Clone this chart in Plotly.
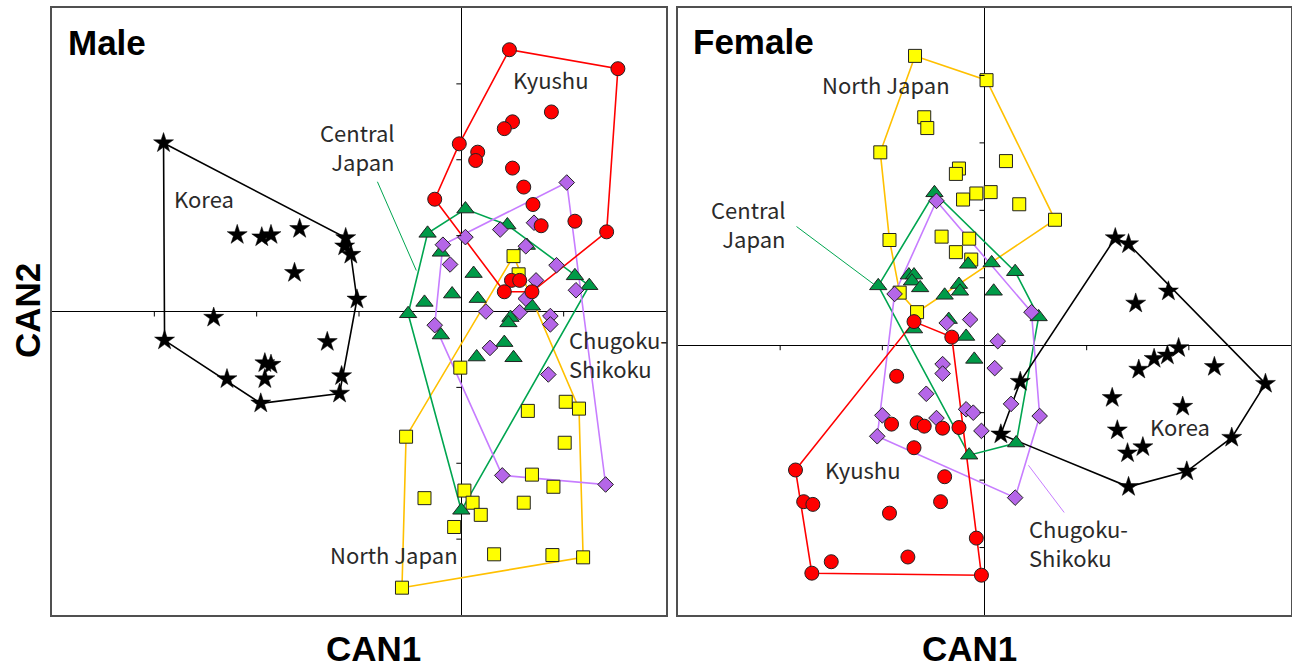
import plotly.graph_objects as go

# ---------------- Male: canonical scores (CAN1, CAN2) ----------------
kor_m_x = [-2.91, -2.19, -1.95, -1.86, -1.58, -1.63, -1.13, -1.14, -1.08, -1.02,
           -2.42, -2.90, -2.29, -1.96, -1.92, -1.86, -1.92, -1.31, -1.17, -1.19]
kor_m_y = [2.22, 1.01, 0.98, 1.01, 1.09, 0.51, 0.97, 0.86, 0.75, 0.16,
           -0.08, -0.38, -0.89, -1.21, -0.68, -0.70, -0.89, -0.40, -0.85, -1.08]

kyu_m_x = [0.47, 1.53, 0.88, 0.50, 0.42, -0.02, 0.16, 0.14, 0.50, 0.61,
           -0.26, 0.70, 0.78, 1.11, 1.42, 0.49, 0.57, 0.42, 0.69]
kyu_m_y = [3.45, 3.20, 2.63, 2.50, 2.41, 2.21, 2.10, 1.99, 1.89, 1.64,
           1.48, 1.41, 1.13, 1.19, 1.05, 0.41, 0.41, 0.26, 0.26]

cen_m_x = [0.04, -0.33, 0.45, -0.20, 0.64, 0.12, 1.11, 1.25, -0.09, -0.36,
           0.16, 0.69, -0.52, 0.48, 0.46, -0.20, 0.42, 0.15, 0.51, 0.00]
cen_m_y = [1.35, 1.03, 1.14, 0.78, 0.87, 0.50, 0.47, 0.34, 0.23, 0.12,
           0.17, 0.07, -0.03, -0.08, -0.15, -0.31, -0.41, -0.60, -0.61, -2.62]

chu_m_x = [1.03, 0.71, 0.38, 0.04, -0.18, 0.63, -0.11, 0.93, 0.73, 1.12,
           0.63, 0.24, 0.57, 0.87, 0.87, -0.26, 0.28, 0.85, 0.40, 1.41]
chu_m_y = [1.70, 1.17, 1.08, 0.98, 0.88, 0.86, 0.62, 0.61, 0.41, 0.28,
           0.17, 0.00, -0.01, -0.06, -0.17, -0.18, -0.48, -0.83, -2.16, -2.28]

nor_m_x = [0.51, 0.56, -0.01, -0.54, 0.65, 1.02, 1.15, 1.01, 0.69, 0.90,
           -0.36, 0.03, 0.11, 0.61, 0.19, -0.07, 0.32, 0.89, 1.19, -0.58]
nor_m_y = [0.73, 0.49, -0.74, -1.65, -1.31, -1.19, -1.28, -1.73, -2.15, -2.31,
           -2.46, -2.36, -2.52, -2.52, -2.68, -2.84, -3.20, -3.21, -3.24, -3.64]

# ---------------- Female: canonical scores (CAN1, CAN2) ----------------
kor_f_x = [1.28, 1.41, 1.80, 1.48, 1.90, 0.35, 0.16, 1.51, 1.66, 1.79,
           2.25, 2.75, 1.25, 1.94, 1.30, 1.55, 1.40, 2.42, 1.98, 1.41]
kor_f_y = [1.59, 1.50, 0.80, 0.62, -0.04, -0.54, -1.32, -0.36, -0.20, -0.15,
           -0.32, -0.57, -0.78, -0.91, -1.26, -1.51, -1.60, -1.37, -1.87, -2.10]

kyu_f_x = [-0.69, -0.32, -0.86, -0.91, -0.66, -0.59, -0.41, -0.25, -0.69, -0.39,
           -0.43, -0.93, -1.85, -1.77, -1.68, -1.50, -1.69, -0.75, -0.08, -0.03]
kyu_f_y = [0.35, 0.12, -0.46, -1.17, -1.15, -1.20, -1.23, -1.22, -1.52, -1.95,
           -2.32, -2.49, -1.85, -2.32, -2.36, -3.21, -3.38, -3.14, -2.86, -3.41]

cen_f_x = [-0.49, -1.04, -0.74, -0.69, -0.71, -0.63, -0.39, -0.25, -0.24, -0.16,
           0.07, 0.30, 0.09, 0.53, -0.18, -0.69, -0.35, -0.10, 0.31, -0.15]
cen_f_y = [2.26, 0.88, 1.04, 1.04, 0.95, 0.85, 0.74, 0.90, 0.80, 1.20,
           1.22, 1.09, 0.80, 0.42, 0.13, 0.24, 0.38, -0.21, -1.45, -1.63]

chu_f_x = [-0.47, -0.88, -0.37, -0.14, 0.13, 0.46, -0.41, -0.41, 0.10, -0.57,
           0.26, 0.54, -0.18, -0.11, -0.47, -1.00, -0.03, -1.05, 0.30]
chu_f_y = [2.14, 0.76, 0.33, 0.38, 0.06, 0.49, -0.28, -0.42, -0.34, -0.72,
           -0.87, -1.05, -0.95, -1.00, -1.08, -1.04, -1.27, -1.35, -2.26]

nor_f_x = [-0.68, 0.02, -0.59, -0.56, -1.02, 0.21, -0.25, -0.28, -0.21, -0.08,
           0.06, 0.34, 0.69, -0.93, -0.42, -0.15, -0.28, -0.13, -0.83, -0.66]
nor_f_y = [4.29, 3.93, 3.38, 3.22, 2.86, 2.73, 2.62, 2.54, 2.16, 2.25,
           2.27, 2.09, 1.86, 1.56, 1.61, 1.58, 1.38, 1.27, 0.78, 0.49]

# axis tick positions (no labels)
m_xticks = [-3, -2, -1, 1]
m_yticks = [-3, -2, -1, 1, 2, 3]
f_xticks = [-2, -1, 1, 2]
f_yticks = [-3, -2, -1, 1, 2, 3, 4]

# group styles: (marker fill, hull colour, symbol, size)
STYLE = {
    "North Japan": ("#FFFF00", "#FFC000", "square", 13),
    "Central Japan": ("#009B48", "#00A550", "triangle-up", 15),
    "Chugoku-Shikoku": ("#B566E8", "#C77DFF", "diamond", 12),
    "Kyushu": ("#FF0000", "#FF0000", "circle", 14),
    "Korea": ("#000000", "#000000", "star", 15),
}


def convex_hull(xs, ys):
    pts = sorted(set(zip(xs, ys)))

    def cross(o, a, b):
        return (a[0] - o[0]) * (b[1] - o[1]) - (a[1] - o[1]) * (b[0] - o[0])

    lower, upper = [], []
    for p in pts:
        while len(lower) >= 2 and cross(lower[-2], lower[-1], p) <= 0:
            lower.pop()
        lower.append(p)
    for p in reversed(pts):
        while len(upper) >= 2 and cross(upper[-2], upper[-1], p) <= 0:
            upper.pop()
        upper.append(p)
    ring = lower[:-1] + upper[:-1]
    ring.append(ring[0])
    return [p[0] for p in ring], [p[1] for p in ring]


panels = [
    ("x", "y", [("North Japan", nor_m_x, nor_m_y), ("Central Japan", cen_m_x, cen_m_y),
                ("Chugoku-Shikoku", chu_m_x, chu_m_y), ("Kyushu", kyu_m_x, kyu_m_y),
                ("Korea", kor_m_x, kor_m_y)]),
    ("x2", "y2", [("North Japan", nor_f_x, nor_f_y), ("Central Japan", cen_f_x, cen_f_y),
                  ("Chugoku-Shikoku", chu_f_x, chu_f_y), ("Kyushu", kyu_f_x, kyu_f_y),
                  ("Korea", kor_f_x, kor_f_y)]),
]

fig = go.Figure()

for xa, ya, groups in panels:
    # hull outlines underneath the points
    for name, gx, gy in groups:
        fill, lc, sym, sz = STYLE[name]
        hx, hy = convex_hull(gx, gy)
        fig.add_trace(go.Scatter(x=hx, y=hy, mode="lines", xaxis=xa, yaxis=ya,
                                 line=dict(color=lc, width=1.6), hoverinfo="skip",
                                 showlegend=False))
    for name, gx, gy in groups:
        fill, lc, sym, sz = STYLE[name]
        mline = dict(color="#000000", width=0.5) if name == "Korea" else dict(color="#222222", width=1)
        fig.add_trace(go.Scatter(x=gx, y=gy, mode="markers", xaxis=xa, yaxis=ya, name=name,
                                 marker=dict(symbol=sym, size=sz, color=fill, line=mline),
                                 showlegend=False))

W, H = 1292, 669
frame = dict(showgrid=False, showticklabels=False, ticks="", showline=True, mirror=True,
             linecolor="#505050", linewidth=1.5, zeroline=True, zerolinecolor="#000000",
             zerolinewidth=1)

shapes = []
for xr, yr, xt, yt in [("x", "y", m_xticks, m_yticks), ("x2", "y2", f_xticks, f_yticks)]:
    for t in xt:
        shapes.append(dict(type="line", xref=xr, yref=yr, x0=t, x1=t, ysizemode="pixel",
                           yanchor=0, y0=0, y1=-5, line=dict(color="#000", width=1)))
    for t in yt:
        shapes.append(dict(type="line", xref=xr, yref=yr, y0=t, y1=t, xsizemode="pixel",
                           xanchor=0, x0=0, x1=-5, line=dict(color="#000", width=1)))

# leader lines from group labels to their hulls
shapes += [
    dict(type="line", xref="x", yref="y", x0=-0.82, y0=1.71, x1=-0.44, y1=0.54,
         line=dict(color="#00A550", width=1)),
    dict(type="line", xref="x2", yref="y2", x0=-1.84, y0=1.76, x1=-1.08, y1=0.90,
         line=dict(color="#00A550", width=1)),
    dict(type="line", xref="x2", yref="y2", x0=0.43, y0=-1.78, x1=0.78, y1=-2.48,
         line=dict(color="#C77DFF", width=1)),
]

lab_font = dict(family="Noto Sans CJK JP, Noto Sans, sans-serif", size=22, color="#2a2a2a")
title_font = dict(family="Liberation Sans, Arial, sans-serif", size=35, color="#000000")
axis_font = dict(family="Liberation Sans, Arial, sans-serif", size=35, color="#000000")


def lab(text, x, y, xr, yr, xanchor="center", align="center"):
    return dict(text=text, x=x, y=y, xref=xr, yref=yr, showarrow=False, xanchor=xanchor,
                yanchor="middle", align=align, font=lab_font)


annotations = [
    dict(text="<b>Male</b>", x=-3.86, y=3.54, xref="x", yref="y", xanchor="left",
         yanchor="middle", showarrow=False, font=title_font),
    dict(text="<b>Female</b>", x=-2.87, y=4.50, xref="x2", yref="y2", xanchor="left",
         yanchor="middle", showarrow=False, font=title_font),
    lab("Kyushu", 0.88, 3.06, "x", "y"),
    lab("Central<br>Japan", -0.63, 2.17, "x", "y", "right", "right"),
    lab("Korea", -2.51, 1.49, "x", "y"),
    lab("Chugoku-<br>Shikoku", 1.03, -0.56, "x", "y", "left", "left"),
    lab("North Japan", -0.01, -3.20, "x", "y", "right", "right"),
    lab("North Japan", -0.96, 3.88, "x2", "y2"),
    lab("Central<br>Japan", -1.92, 1.81, "x2", "y2", "right", "right"),
    lab("Kyushu", -1.19, -1.84, "x2", "y2"),
    lab("Korea", 1.91, -1.20, "x2", "y2"),
    lab("Chugoku-<br>Shikoku", 0.42, -2.92, "x2", "y2", "left", "left"),
    dict(text="<b>CAN1</b>", x=373 / W, y=1 - 648 / H, xref="paper", yref="paper",
         showarrow=False, xanchor="center", yanchor="middle", font=axis_font),
    dict(text="<b>CAN1</b>", x=969 / W, y=1 - 648 / H, xref="paper", yref="paper",
         showarrow=False, xanchor="center", yanchor="middle", font=axis_font),
    dict(text="<b>CAN2</b>", x=28 / W, y=1 - 311 / H, xref="paper", yref="paper",
         showarrow=False, xanchor="center", yanchor="middle", textangle=-90, font=axis_font),
]

fig.update_layout(
    width=W, height=H, margin=dict(l=0, r=0, t=0, b=0),
    paper_bgcolor="white", plot_bgcolor="white",
    xaxis=dict(domain=[52 / W, 666 / W], range=[-4, 2], anchor="y", **frame),
    yaxis=dict(domain=[1 - 615 / H, 1 - 8 / H], range=[-4, 4], anchor="x", **frame),
    xaxis2=dict(domain=[678 / W, 1291 / W], range=[-3, 3], anchor="y2", **frame),
    yaxis2=dict(domain=[1 - 615 / H, 1 - 8 / H], range=[-4, 5], anchor="x2", **frame),
    shapes=shapes, annotations=annotations, showlegend=False,
)

fig.write_html("out.html")
